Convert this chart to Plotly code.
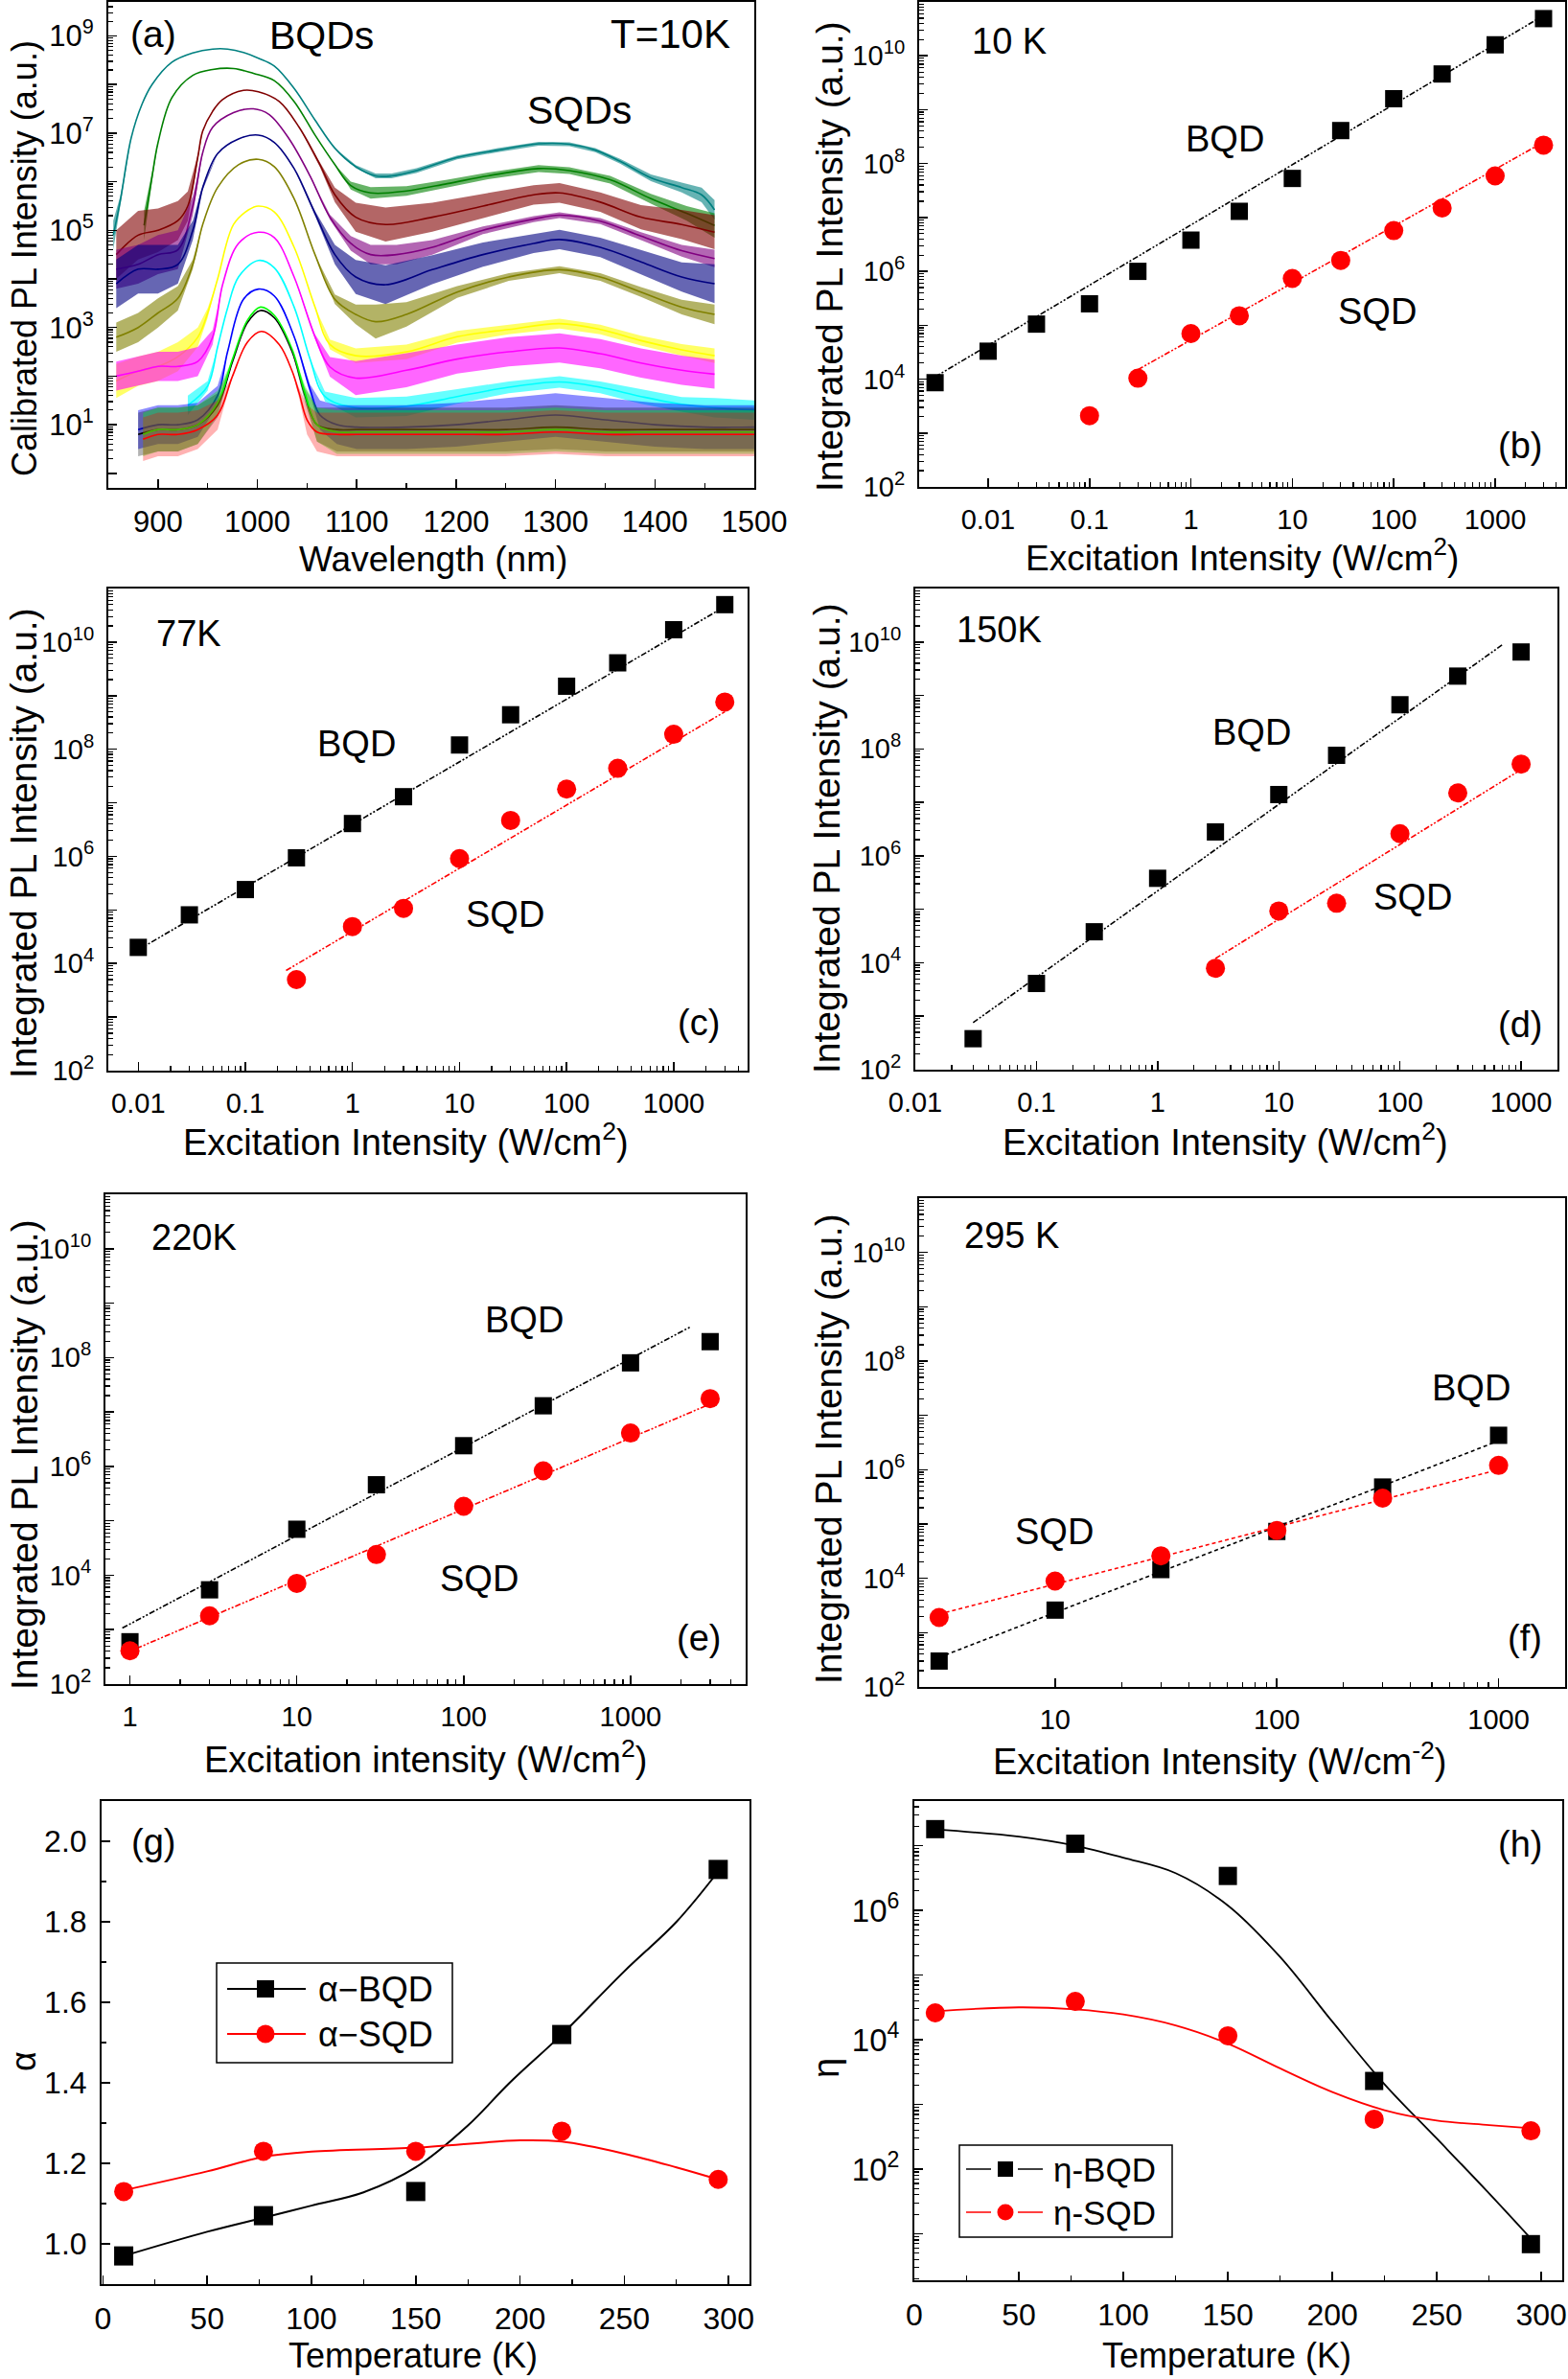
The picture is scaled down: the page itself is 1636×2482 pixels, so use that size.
import plotly.graph_objects as go

# ============ DATA ============
# (a) PL spectra at 10 K: wavelength (nm), log10 intensity (centre), noise half-width (decades)
teal_wl = [855, 862, 873, 884, 894, 914, 935, 955, 970, 986, 1001, 1017, 1037, 1058, 1078, 1099, 1119, 1135, 1160, 1201, 1242, 1283, 1314, 1340, 1365, 1396, 1427, 1447, 1460]
teal_lg = [4.9, 5.6, 6.9, 7.6, 8.0, 8.46, 8.65, 8.73, 8.73, 8.66, 8.54, 8.38, 7.92, 7.27, 6.69, 6.31, 6.12, 6.12, 6.23, 6.5, 6.65, 6.78, 6.77, 6.65, 6.42, 6.08, 5.88, 5.73, 5.42]
teal_am = [0.3, 0.1, 0, 0, 0, 0, 0, 0, 0, 0, 0, 0, 0, 0, 0, 0.03, 0.05, 0.05, 0.05, 0.04, 0.04, 0.04, 0.04, 0.04, 0.05, 0.07, 0.1, 0.15, 0.2]

green_wl = [886, 894, 900, 914, 935, 955, 976, 996, 1017, 1037, 1058, 1078, 1094, 1114, 1150, 1191, 1232, 1283, 1314, 1355, 1396, 1432, 1460]
green_lg = [5.1, 6.1, 6.8, 7.73, 8.19, 8.31, 8.33, 8.23, 8.08, 7.65, 6.96, 6.35, 5.92, 5.77, 5.81, 5.96, 6.12, 6.27, 6.23, 6.04, 5.65, 5.35, 5.1]
green_am = [0.3, 0.1, 0, 0, 0, 0, 0, 0, 0, 0, 0, 0, 0.08, 0.12, 0.1, 0.08, 0.07, 0.07, 0.07, 0.08, 0.1, 0.15, 0.25]

wine_wl = [858, 880, 900, 920, 930, 940, 945, 955, 965, 986, 1001, 1022, 1042, 1063, 1078, 1099, 1129, 1176, 1227, 1278, 1304, 1345, 1386, 1427, 1460]
wine_lg = [4.5, 4.9, 5.0, 5.2, 5.5, 6.5, 7.04, 7.45, 7.69, 7.88, 7.85, 7.65, 7.12, 6.35, 5.73, 5.27, 5.12, 5.27, 5.5, 5.73, 5.77, 5.58, 5.27, 5.12, 4.96]
wine_am = [0.5, 0.5, 0.45, 0.4, 0.3, 0.05, 0, 0, 0, 0, 0, 0, 0, 0.05, 0.15, 0.3, 0.35, 0.3, 0.25, 0.2, 0.2, 0.2, 0.25, 0.3, 0.35]

purple_wl = [858, 880, 900, 920, 935, 945, 955, 976, 996, 1012, 1032, 1053, 1073, 1094, 1114, 1140, 1176, 1227, 1278, 1304, 1345, 1386, 1427, 1460]
purple_lg = [4.2, 4.3, 4.5, 4.6, 5.5, 6.6, 7.12, 7.42, 7.5, 7.38, 6.88, 6.12, 5.27, 4.73, 4.5, 4.5, 4.65, 5.0, 5.23, 5.31, 5.19, 4.88, 4.58, 4.42]
purple_am = [0.4, 0.4, 0.4, 0.4, 0.2, 0, 0, 0, 0, 0, 0, 0, 0.05, 0.15, 0.2, 0.2, 0.15, 0.08, 0.06, 0.06, 0.06, 0.08, 0.12, 0.18]

navy_wl = [858, 880, 900, 920, 935, 945, 960, 981, 1001, 1017, 1037, 1058, 1078, 1099, 1129, 1176, 1227, 1278, 1304, 1345, 1386, 1427, 1460]
navy_lg = [3.9, 4.2, 4.2, 4.3, 5.0, 5.88, 6.58, 6.88, 6.96, 6.81, 6.27, 5.35, 4.5, 4.04, 3.88, 4.19, 4.5, 4.73, 4.81, 4.65, 4.35, 4.04, 3.9]
navy_am = [0.5, 0.5, 0.5, 0.4, 0.2, 0.05, 0, 0, 0, 0, 0, 0.05, 0.2, 0.35, 0.4, 0.3, 0.25, 0.2, 0.2, 0.2, 0.25, 0.3, 0.4]

olive_wl = [858, 880, 900, 920, 935, 945, 960, 981, 1001, 1017, 1037, 1058, 1078, 1099, 1119, 1150, 1201, 1253, 1304, 1345, 1386, 1427, 1460]
olive_lg = [2.8, 3.0, 3.3, 3.6, 4.3, 5.12, 5.88, 6.35, 6.46, 6.31, 5.65, 4.5, 3.58, 3.27, 3.12, 3.27, 3.73, 4.04, 4.19, 4.04, 3.73, 3.42, 3.27]
olive_am = [0.3, 0.3, 0.3, 0.25, 0.1, 0, 0, 0, 0, 0, 0, 0, 0.1, 0.2, 0.35, 0.25, 0.12, 0.08, 0.07, 0.08, 0.1, 0.15, 0.2]

yellow_wl = [858, 880, 900, 920, 940, 950, 960, 976, 991, 1001, 1017, 1037, 1058, 1073, 1099, 1150, 1201, 1253, 1304, 1345, 1386, 1427, 1460]
yellow_lg = [1.9, 2.1, 2.2, 2.4, 2.8, 3.3, 4.0, 5.12, 5.42, 5.5, 5.38, 4.65, 3.42, 2.65, 2.42, 2.5, 2.81, 2.96, 3.08, 2.96, 2.73, 2.54, 2.42]
yellow_am = [0.35, 0.3, 0.3, 0.3, 0.2, 0.1, 0, 0, 0, 0, 0, 0, 0, 0.1, 0.15, 0.15, 0.12, 0.1, 0.1, 0.1, 0.1, 0.12, 0.15]

magenta_wl = [858, 880, 900, 920, 940, 955, 965, 981, 1001, 1017, 1037, 1058, 1073, 1099, 1150, 1201, 1253, 1304, 1345, 1386, 1427, 1460]
magenta_lg = [2.0, 2.1, 2.2, 2.2, 2.3, 2.8, 3.88, 4.73, 4.96, 4.85, 4.04, 2.81, 2.19, 1.96, 2.12, 2.35, 2.5, 2.58, 2.46, 2.27, 2.12, 2.04]
magenta_am = [0.3, 0.3, 0.3, 0.3, 0.3, 0.15, 0, 0, 0, 0, 0, 0.05, 0.2, 0.35, 0.35, 0.3, 0.3, 0.3, 0.3, 0.3, 0.3, 0.3]

cyan_wl = [930, 950, 960, 970, 981, 1001, 1017, 1037, 1053, 1068, 1099, 1150, 1201, 1253, 1304, 1345, 1386, 1427, 1460, 1500]
cyan_lg = [1.4, 1.8, 2.6, 3.4, 4.04, 4.38, 4.23, 3.42, 2.35, 1.58, 1.35, 1.38, 1.58, 1.77, 1.88, 1.77, 1.58, 1.42, 1.35, 1.3]
cyan_am = [0.2, 0.1, 0, 0, 0, 0, 0, 0, 0, 0.1, 0.2, 0.2, 0.15, 0.12, 0.12, 0.12, 0.15, 0.15, 0.2, 0.2]

blue_wl = [880, 900, 920, 940, 960, 970, 986, 1001, 1017, 1037, 1053, 1063, 1080, 1100, 1150, 1200, 1250, 1300, 1350, 1400, 1450, 1500]
blue_lg = [0.9, 1.0, 1.0, 1.1, 1.6, 2.5, 3.58, 3.79, 3.65, 2.81, 1.73, 1.2, 1.0, 0.95, 0.95, 1.0, 1.1, 1.2, 1.1, 1.0, 0.95, 0.95]
blue_am = [0.4, 0.4, 0.4, 0.35, 0.2, 0, 0, 0, 0, 0, 0.1, 0.3, 0.4, 0.45, 0.45, 0.45, 0.45, 0.45, 0.45, 0.45, 0.45, 0.45]

black_wl = [880, 900, 920, 940, 960, 975, 990, 1003, 1017, 1035, 1048, 1060, 1080, 1100, 1150, 1200, 1250, 1300, 1350, 1400, 1450, 1500]
black_lg = [0.8, 0.9, 0.9, 1.0, 1.4, 2.3, 3.1, 3.35, 3.2, 2.5, 1.6, 1.0, 0.9, 0.9, 0.9, 0.9, 0.9, 0.95, 0.9, 0.9, 0.9, 0.9]
black_am = [0.45, 0.45, 0.45, 0.4, 0.25, 0, 0, 0, 0, 0, 0.15, 0.35, 0.45, 0.45, 0.45, 0.45, 0.45, 0.45, 0.45, 0.45, 0.45, 0.45]

lime_wl = [885, 900, 920, 940, 960, 975, 990, 1003, 1017, 1035, 1048, 1060, 1080, 1100, 1150, 1200, 1250, 1300, 1350, 1400, 1450, 1500]
lime_lg = [0.8, 0.9, 0.9, 1.0, 1.45, 2.35, 3.15, 3.42, 3.25, 2.55, 1.65, 1.0, 0.85, 0.85, 0.85, 0.85, 0.85, 0.9, 0.85, 0.85, 0.85, 0.85]
lime_am = [0.45, 0.45, 0.45, 0.4, 0.25, 0, 0, 0, 0, 0, 0.15, 0.35, 0.45, 0.45, 0.45, 0.45, 0.45, 0.45, 0.45, 0.45, 0.45, 0.45]

red_wl = [885, 900, 920, 940, 960, 975, 990, 1004, 1022, 1035, 1042, 1050, 1060, 1080, 1100, 1150, 1200, 1250, 1300, 1350, 1400, 1450, 1500]
red_lg = [0.7, 0.8, 0.8, 0.9, 1.2, 2.0, 2.7, 2.92, 2.65, 2.1, 1.65, 1.1, 0.85, 0.8, 0.8, 0.8, 0.8, 0.8, 0.85, 0.8, 0.8, 0.8, 0.8]
red_am = [0.45, 0.45, 0.45, 0.4, 0.3, 0, 0, 0, 0, 0, 0.1, 0.3, 0.4, 0.45, 0.45, 0.45, 0.45, 0.45, 0.45, 0.45, 0.45, 0.45, 0.45]

# (b) 10 K
b_x_bqd = [0.003, 0.01, 0.03, 0.1, 0.3, 1, 3, 10, 30, 100, 300, 1000, 3000]
b_y_bqd = [8.6e3, 3.3e4, 1.05e5, 2.5e5, 1.0e6, 3.8e6, 1.3e7, 5.3e7, 4.1e8, 1.6e9, 4.6e9, 1.6e10, 4.9e10]
b_x_sqd = [0.1, 0.3, 1, 3, 10, 30, 100, 300, 1000, 3000]
b_y_sqd = [2.1e3, 1.04e4, 7.0e4, 1.5e5, 7.4e5, 1.6e6, 5.7e6, 1.5e7, 5.9e7, 2.2e8]
b_fit_bqd_x = [0.003, 3000]
b_fit_bqd_y = [1.1e4, 5.6e10]
b_fit_sqd_x = [0.3, 3000]
b_fit_sqd_y = [1.5e4, 2.5e8]

# (c) 77 K
c_x_bqd = [0.01, 0.03, 0.1, 0.3, 1, 3, 10, 30, 100, 300, 1000, 3000]
c_y_bqd = [2.0e4, 8.1e4, 2.4e5, 9.4e5, 4.1e6, 1.3e7, 1.2e8, 4.4e8, 1.5e9, 4.1e9, 1.7e10, 5.0e10]
c_x_sqd = [0.3, 1, 3, 10, 30, 100, 300, 1000, 3000]
c_y_sqd = [5.0e3, 4.9e4, 1.07e5, 9.1e5, 4.7e6, 1.8e7, 4.4e7, 1.9e8, 7.6e8]
c_fit_bqd_x = [0.01, 3000]
c_fit_bqd_y = [1.8e4, 4.6e10]
c_fit_sqd_x = [0.24, 3000]
c_fit_sqd_y = [7.4e3, 5.0e8]

# (d) 150 K
d_x_bqd = [0.03, 0.1, 0.3, 1, 3, 10, 30, 100, 300, 1000]
d_y_bqd = [3.8e2, 4.1e3, 3.8e4, 3.8e5, 2.8e6, 1.4e7, 7.6e7, 6.7e8, 2.3e9, 6.5e9]
d_x_sqd = [3, 10, 30, 100, 300, 1000]
d_y_sqd = [7.9e3, 9.3e4, 1.3e5, 2.6e6, 1.5e7, 5.2e7]
d_fit_bqd_x = [0.03, 716]
d_fit_bqd_y = [7.6e2, 9.2e9]
d_fit_sqd_x = [3, 1000]
d_fit_sqd_y = [1.2e4, 4.1e7]

# (e) 220 K
e_x = [1, 3, 10, 30, 100, 300, 1000, 3000]
e_y_bqd = [6.0e2, 5.4e3, 7.0e4, 4.6e5, 2.4e6, 1.3e7, 8.0e7, 1.96e8]
e_y_sqd = [4.1e2, 1.8e3, 7.1e3, 2.4e4, 1.85e5, 8.3e5, 4.1e6, 1.76e7]
e_fit_bqd_x = [0.9, 2300]
e_fit_bqd_y = [1.07e3, 3.7e8]
e_fit_sqd_x = [0.9, 3000]
e_fit_sqd_y = [3.5e2, 1.4e7]

# (f) 295 K
f_x = [3, 10, 30, 100, 300, 1000]
f_y_bqd = [3.0e2, 2.6e3, 1.45e4, 7.3e4, 4.8e5, 4.3e6]
f_y_sqd = [1.9e3, 8.9e3, 2.6e4, 7.6e4, 3.0e5, 1.2e6]
f_fit_bqd_x = [3, 1000]
f_fit_bqd_y = [3.5e2, 3.4e6]
f_fit_sqd_x = [3, 1000]
f_fit_sqd_y = [2.2e3, 1.0e6]

# (g) alpha vs T
g_T = [10, 77, 150, 220, 295]
g_bqd = [0.97, 1.07, 1.13, 1.52, 1.93]
g_sqd = [1.13, 1.23, 1.23, 1.28, 1.16]
g_curve_T = [10, 50, 77, 100, 125, 150, 175, 195, 220, 250, 275, 295]
g_curve_bqd = [0.97, 1.03, 1.065, 1.095, 1.128, 1.19, 1.294, 1.40, 1.52, 1.677, 1.80, 1.925]
g_curve_T2 = [10, 50, 77, 100, 150, 200, 220, 250, 275, 295]
g_curve_sqd = [1.133, 1.18, 1.216, 1.229, 1.239, 1.257, 1.254, 1.224, 1.19, 1.16]

# (h) eta vs T
h_T = [10, 77, 150, 220, 295]
h_bqd = [1.8e7, 1.07e7, 3.4e6, 2.3e3, 6.9]
h_sqd = [2.6e4, 3.9e4, 1.15e4, 5.9e2, 3.9e2]
h_curve_T = [10, 50, 77, 100, 125, 150, 175, 200, 225, 250, 275, 295]
h_curve_bqd = [1.78e7, 1.38e7, 1.0e7, 6.5e6, 3.76e6, 1.19e6, 1.9e5, 1.9e4, 2.04e3, 295, 42, 8.4]
h_curve_sqd = [2.75e4, 3.16e4, 2.95e4, 2.45e4, 1.66e4, 8.7e3, 3.6e3, 1.55e3, 813, 562, 479, 427]

# ============ STYLE / LAYOUT ============
W, H = 1636, 2482
FONT = "Liberation Sans, Arial, sans-serif"
RED = "#FF0000"

BOX = {1: (113, 787, 2, 509), 2: (959, 1633, 2, 508), 3: (113, 780, 614, 1117),
       4: (955, 1625, 614, 1116), 5: (110, 778, 1246, 1757), 6: (959, 1633, 1250, 1760),
       7: (106, 782, 1879, 2383), 8: (954, 1630, 1879, 2379)}


def px(x):
    return x / W


def py(y):
    return 1 - y / H


def ax_name(i, kind):
    return kind if i == 1 else f"{kind}{i}"


MINOR = dict(ticks="inside", ticklen=5, tickwidth=1.2, tickcolor="black")


def common(size):
    return dict(showline=True, linecolor="black", linewidth=2, mirror=True,
                ticks="inside", ticklen=9, tickwidth=1.5, tickcolor="black",
                ticklabelstandoff=7,
                showgrid=False, zeroline=False, automargin=False, ticklabeloverflow="allow",
                tickfont=dict(family=FONT, size=size, color="black"))


def minor_log(lo, hi):
    return [m * 10.0 ** k for k in range(lo, hi + 1) for m in range(2, 10)]


def log_y(lo, hi, labeled, rng, size=29):
    d = common(size)
    d.update(type="log", range=rng,
             tickvals=[10.0 ** k for k in range(lo, hi + 1)],
             ticktext=[f"10<sup>{k}</sup>" if k in labeled else " " for k in range(lo, hi + 1)],
             minor=dict(tickvals=minor_log(lo, hi), **MINOR))
    return d


def log_x(lo, hi, rng, size=29):
    labels = {-2: "0.01", -1: "0.1", 0: "1", 1: "10", 2: "100", 3: "1000"}
    d = common(size)
    d.update(type="log", range=rng,
             tickvals=[10.0 ** k for k in range(lo, hi + 1)],
             ticktext=[labels[k] for k in range(lo, hi + 1)],
             minor=dict(tickvals=minor_log(lo, hi), **MINOR))
    return d


layout = dict(width=W, height=H, margin=dict(l=0, r=0, t=0, b=0, autoexpand=False),
              paper_bgcolor="white", plot_bgcolor="white", showlegend=False,
              font=dict(family=FONT, color="black"))

axes = {}
xa = common(31)
xa.update(range=[850, 1500], tickvals=[900, 1000, 1100, 1200, 1300, 1400, 1500],
          minor=dict(dtick=50, tick0=850, **MINOR))
axes[1] = (xa, log_y(0, 9, [1, 3, 5, 7, 9], [-0.3, 9.7], 31))
axes[2] = (log_x(-2, 3, [-2.68, 3.69]), log_y(2, 10, [2, 4, 6, 8, 10], [2, 11]))
axes[3] = (log_x(-2, 3, [-2.28, 3.69]), log_y(2, 10, [2, 4, 6, 8, 10], [2, 11]))
axes[4] = (log_x(-2, 3, [-2.0, 3.30]), log_y(2, 10, [2, 4, 6, 8, 10], [2, 11]))
axes[5] = (log_x(0, 3, [-0.147, 3.69]), log_y(2, 10, [2, 4, 6, 8, 10], [2, 11]))
axes[6] = (log_x(1, 3, [0.387, 3.30]), log_y(2, 10, [2, 4, 6, 8, 10], [2, 11]))
xg = common(32)
xg.update(range=[-0.6, 310], dtick=50, tick0=0, minor=dict(dtick=25, tick0=0, **MINOR))
yg = common(32)
yg.update(range=[0.9, 2.1], dtick=0.2, tick0=0, tickformat=".1f",
          minor=dict(dtick=0.1, tick0=0, **MINOR))
axes[7] = (xg, yg)
xh = common(32)
xh.update(range=[0, 310], dtick=50, tick0=0, minor=dict(dtick=25, tick0=0, **MINOR))
axes[8] = (xh, log_y(0, 7, [2, 4, 6], [0.28, 7.69], 33))

for i, (xd, yd) in axes.items():
    l, r, t, b = BOX[i]
    xd["domain"] = [px(l), px(r)]
    yd["domain"] = [py(b), py(t)]
    xd["anchor"] = "y" if i == 1 else f"y{i}"
    yd["anchor"] = "x" if i == 1 else f"x{i}"
    layout[ax_name(i, "xaxis")] = xd
    layout[ax_name(i, "yaxis")] = yd

fig = go.Figure(layout=layout)


def refs(i):
    return ("x" if i == 1 else f"x{i}"), ("y" if i == 1 else f"y{i}")


# ---- panel a spectra ----
spectra = [
    (teal_wl, teal_lg, teal_am, "0,128,128", 0.6),
    (green_wl, green_lg, green_am, "0,128,0", 0.6),
    (wine_wl, wine_lg, wine_am, "128,0,0", 0.6),
    (purple_wl, purple_lg, purple_am, "128,0,128", 0.6),
    (navy_wl, navy_lg, navy_am, "0,0,128", 0.6),
    (olive_wl, olive_lg, olive_am, "128,128,0", 0.6),
    (yellow_wl, yellow_lg, yellow_am, "255,255,0", 0.6),
    (magenta_wl, magenta_lg, magenta_am, "255,0,255", 0.6),
    (cyan_wl, cyan_lg, cyan_am, "0,255,255", 0.6),
    (blue_wl, blue_lg, blue_am, "0,0,255", 0.45),
    (black_wl, black_lg, black_am, "0,0,0", 0.3),
    (lime_wl, lime_lg, lime_am, "0,255,0", 0.35),
    (red_wl, red_lg, red_am, "255,0,0", 0.3),
]
for wl, lg, am, rgb, alpha in spectra:
    up = [10 ** (v + a) for v, a in zip(lg, am)]
    lo = [10 ** (v - a) for v, a in zip(lg, am)]
    fig.add_trace(go.Scatter(x=wl + wl[::-1], y=up + lo[::-1], xaxis="x", yaxis="y",
                             fill="toself", fillcolor=f"rgba({rgb},{alpha})",
                             line=dict(width=0), mode="lines", hoverinfo="skip"))
    fig.add_trace(go.Scatter(x=wl, y=[10 ** v for v in lg], xaxis="x", yaxis="y",
                             mode="lines", line=dict(color=f"rgb({rgb})", width=1.6, shape="spline"),
                             hoverinfo="skip"))

# ---- panels b-f ----
DASH_DD = "6px,2px,2px,2px,2px,2px"
power_panels = [
    (2, b_x_bqd, b_y_bqd, b_x_sqd, b_y_sqd, b_fit_bqd_x, b_fit_bqd_y, b_fit_sqd_x, b_fit_sqd_y, DASH_DD),
    (3, c_x_bqd, c_y_bqd, c_x_sqd, c_y_sqd, c_fit_bqd_x, c_fit_bqd_y, c_fit_sqd_x, c_fit_sqd_y, DASH_DD),
    (4, d_x_bqd, d_y_bqd, d_x_sqd, d_y_sqd, d_fit_bqd_x, d_fit_bqd_y, d_fit_sqd_x, d_fit_sqd_y, DASH_DD),
    (5, e_x, e_y_bqd, e_x, e_y_sqd, e_fit_bqd_x, e_fit_bqd_y, e_fit_sqd_x, e_fit_sqd_y, DASH_DD),
    (6, f_x, f_y_bqd, f_x, f_y_sqd, f_fit_bqd_x, f_fit_bqd_y, f_fit_sqd_x, f_fit_sqd_y, "4px,3px"),
]
for i, xb, yb, xs, ys, fbx, fby, fsx, fsy, dash in power_panels:
    xr, yr = refs(i)
    fig.add_trace(go.Scatter(x=fbx, y=fby, xaxis=xr, yaxis=yr, mode="lines",
                             line=dict(color="black", width=1.6, dash=dash)))
    fig.add_trace(go.Scatter(x=fsx, y=fsy, xaxis=xr, yaxis=yr, mode="lines",
                             line=dict(color=RED, width=1.6, dash=dash)))
    fig.add_trace(go.Scatter(x=xb, y=yb, xaxis=xr, yaxis=yr, mode="markers",
                             marker=dict(symbol="square", size=18, color="black")))
    fig.add_trace(go.Scatter(x=xs, y=ys, xaxis=xr, yaxis=yr, mode="markers",
                             marker=dict(symbol="circle", size=20, color=RED)))

# ---- panel g ----
fig.add_trace(go.Scatter(x=g_curve_T, y=g_curve_bqd, xaxis="x7", yaxis="y7", mode="lines",
                         line=dict(color="black", width=2, shape="spline")))
fig.add_trace(go.Scatter(x=g_curve_T2, y=g_curve_sqd, xaxis="x7", yaxis="y7", mode="lines",
                         line=dict(color=RED, width=2, shape="spline")))
fig.add_trace(go.Scatter(x=g_T, y=g_bqd, xaxis="x7", yaxis="y7", mode="markers",
                         marker=dict(symbol="square", size=20, color="black")))
fig.add_trace(go.Scatter(x=g_T, y=g_sqd, xaxis="x7", yaxis="y7", mode="markers",
                         marker=dict(symbol="circle", size=20, color=RED)))

# ---- panel h ----
fig.add_trace(go.Scatter(x=h_curve_T, y=h_curve_bqd, xaxis="x8", yaxis="y8", mode="lines",
                         line=dict(color="black", width=1.8, shape="spline")))
fig.add_trace(go.Scatter(x=h_curve_T, y=h_curve_sqd, xaxis="x8", yaxis="y8", mode="lines",
                         line=dict(color=RED, width=1.8, shape="spline")))
fig.add_trace(go.Scatter(x=h_T, y=h_bqd, xaxis="x8", yaxis="y8", mode="markers",
                         marker=dict(symbol="square", size=19, color="black")))
fig.add_trace(go.Scatter(x=h_T, y=h_sqd, xaxis="x8", yaxis="y8", mode="markers",
                         marker=dict(symbol="circle", size=20, color=RED)))

# ---- text ----
ann = []


def text(x, y, s, size, angle=0, xanchor="center"):
    ann.append(dict(x=px(x), y=py(y), xref="paper", yref="paper", text=s, showarrow=False,
                    font=dict(family=FONT, size=size, color="black"), textangle=angle,
                    xanchor=xanchor, yanchor="middle"))


XT = "Excitation Intensity (W/cm<sup>2</sup>)"
YT = "Integrated PL Intensity (a.u.)"
text(25, 270, "Calibrated PL Intensity (a.u.)", 36, -90)
text(452, 583, "Wavelength (nm)", 37)
text(866, 268, YT, 39, -90)
text(1296, 579, XT, 37)
text(25, 880, YT, 39, -90)
text(423, 1189, XT, 38)
text(862, 874, YT, 39, -90)
text(1278, 1189, XT, 38)
text(25, 1518, YT, 39, -90)
text(444, 1833, "Excitation intensity (W/cm<sup>2</sup>)", 38)
text(864, 1512, YT, 39, -90)
text(1272, 1835, "Excitation Intensity (W/cm<sup>-2</sup>)", 38)
text(24, 2151, "α", 36, -90)
text(431, 2457, "Temperature (K)", 36)
text(862, 2157, "η", 38, -90)
text(1280, 2457, "Temperature (K)", 36)

text(160, 35, "(a)", 39)
text(335, 37, "BQDs", 41)
text(699, 35, "T=10K", 42)
text(604, 115, "SQDs", 41)
text(1053, 43, "10 K", 38)
text(1278, 145, "BQD", 38)
text(1437, 325, "SQD", 38)
text(1586, 465, "(b)", 38)
text(197, 661, "77K", 38)
text(372, 776, "BQD", 38)
text(527, 954, "SQD", 38)
text(729, 1067, "(c)", 38)
text(1042, 657, "150K", 38)
text(1306, 764, "BQD", 38)
text(1474, 936, "SQD", 38)
text(1586, 1069, "(d)", 38)
text(202, 1291, "220K", 38)
text(547, 1377, "BQD", 38)
text(500, 1647, "SQD", 38)
text(729, 1709, "(e)", 38)
text(1055, 1289, "295 K", 38)
text(1535, 1448, "BQD", 38)
text(1100, 1598, "SQD", 38)
text(1591, 1709, "(f)", 38)
text(160, 1922, "(g)", 38)
text(1586, 1924, "(h)", 38)

# ---- legends (drawn) ----
shapes = []


def rect(x0, y0, x1, y1, fill=None, lw=1.5):
    shapes.append(dict(type="rect", xref="paper", yref="paper", x0=px(x0), x1=px(x1),
                       y0=py(y1), y1=py(y0), line=dict(color="black", width=lw),
                       fillcolor=fill if fill else "rgba(0,0,0,0)"))


def seg(x0, x1, y, color, lw=2):
    shapes.append(dict(type="line", xref="paper", yref="paper", x0=px(x0), x1=px(x1),
                       y0=py(y), y1=py(y), line=dict(color=color, width=lw)))


def circ(xc, yc, d, color):
    shapes.append(dict(type="circle", xref="paper", yref="paper", x0=px(xc - d / 2), x1=px(xc + d / 2),
                       y0=py(yc + d / 2), y1=py(yc - d / 2), line=dict(color=color, width=0),
                       fillcolor=color))


rect(226, 2048, 472, 2152)
seg(237, 319, 2075, "black")
rect(268, 2066, 286, 2084, fill="black", lw=0)
text(330, 2075, "α−BQD", 36, xanchor="left")
seg(237, 319, 2122, RED)
circ(277, 2122, 19, RED)
text(330, 2122, "α−SQD", 36, xanchor="left")

rect(1001, 2238, 1223, 2334)
seg(1008, 1034, 2263, "black", 1.5)
seg(1062, 1088, 2263, "black", 1.5)
rect(1041, 2255, 1057, 2271, fill="black", lw=0)
text(1097, 2263, "η-BQD", 35, xanchor="left")
seg(1008, 1034, 2308, RED, 1.5)
seg(1062, 1088, 2308, RED, 1.5)
circ(1049, 2308, 17, RED)
text(1097, 2308, "η-SQD", 35, xanchor="left")

fig.update_layout(annotations=ann, shapes=shapes)
# remove the default page margin so the 1636x2482 figure fills the window exactly
fig.write_html("out.html", config={"displayModeBar": False, "staticPlot": True},
               post_script="document.body.style.margin='0';document.body.style.overflow='hidden';")
